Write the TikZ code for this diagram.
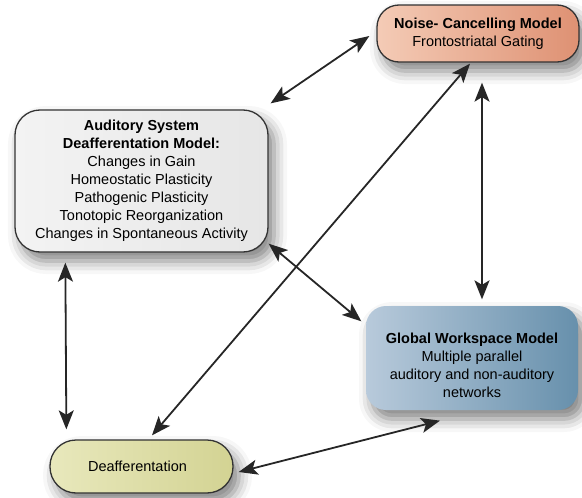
\documentclass[tikz,border=0pt]{standalone}
\usepackage{fontspec}
\setmainfont{Liberation Sans}
\usetikzlibrary{arrows.meta,calc,shadows.blur}
\definecolor{arrowcol}{HTML}{262626}
\definecolor{bordercol}{HTML}{333333}
\definecolor{noiseL}{HTML}{F4CBB6}
\definecolor{noiseR}{HTML}{DE9173}
\definecolor{audL}{HTML}{F3F3F3}
\definecolor{audR}{HTML}{E6E6E6}
\definecolor{gwL}{HTML}{B8CADB}
\definecolor{gwR}{HTML}{6790AC}
\definecolor{deafL}{HTML}{E8E8BC}
\definecolor{deafR}{HTML}{D3D393}
\tikzset{
  box/.style={draw=bordercol, line width=1.3pt, align=center,
    font=\fontsize{14.5}{18}\selectfont, inner sep=0pt,
    blur shadow={shadow xshift=6pt, shadow yshift=-9pt, shadow blur radius=13pt, shadow opacity=50}},
  link/.style={arrowcol, line width=1.8pt,
    {Stealth[length=19pt,width=15pt,inset=4.5pt]}-{Stealth[length=19pt,width=15pt,inset=4.5pt]}},
}
\begin{document}
\begin{tikzpicture}[x=1pt,y=-1pt]
\useasboundingbox (0,0) rectangle (582,498);
\node[box, minimum width=202pt, minimum height=57pt, rounded corners=22pt,
      left color=noiseL, right color=noiseR] (noise) at (478,33.5)
      {\textbf{Noise- Cancelling Model}\\Frontostriatal Gating};
\node[box, minimum width=253pt, minimum height=142pt, rounded corners=25pt,
      left color=audL, right color=audR] (aud) at (141.5,181)
      {\textbf{Auditory System}\\\textbf{Deafferentation Model:}\\Changes in Gain\\Homeostatic Plasticity\\Pathogenic Plasticity\\Tonotopic Reorganization\\Changes in Spontaneous Activity};
\node[box, draw=none, minimum width=212pt, minimum height=104pt, rounded corners=20pt,
      left color=gwL, right color=gwR] (gw) at (472,358) {};
\node[align=center, font=\fontsize{14.5}{18}\selectfont, inner sep=0pt] (gwtext) at ($(gw.center)+(0,7)$)
      {\textbf{Global Workspace Model}\\Multiple parallel\\auditory and non-auditory\\networks};
\node[box, minimum width=183pt, minimum height=53pt, rounded corners=26pt,
      left color=deafL, right color=deafR] (deaf) at (141.5,466.5)
      {\hspace*{-8pt}Deafferentation};
\draw[link] ($(aud.north east)+(2,-6)$) -- ($(noise.west)+(-7,2.5)$);
\draw[link] ($(deaf.north)+(10.5,-4)$) -- ($(noise.south)+(-8,1)$);
\draw[link] ($(noise.south)+(4,20)$) -- ($(gw.north)+(10,-6)$);
\draw[link] ($(aud.south east)+(0,-9)$) -- ($(gw.north west)+(-4,16)$);
\draw[link] ($(aud.south west)+(51,10)$) -- ($(deaf.north west)+(17,-10)$);
\draw[link] ($(deaf.east)+(5,5.5)$) -- ($(gw.south)+(-32,10)$);
\end{tikzpicture}
\end{document}
